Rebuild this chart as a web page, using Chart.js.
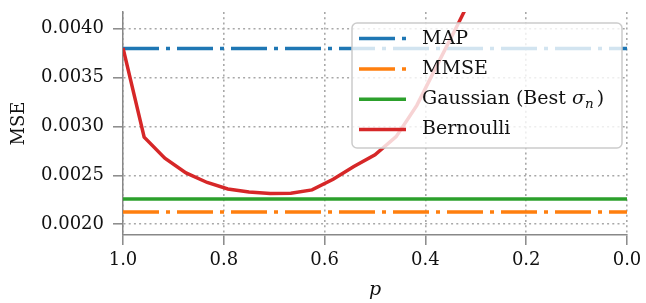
<!DOCTYPE html>
<html>
<head>
<meta charset="utf-8">
<script src="https://cdn.jsdelivr.net/npm/chart.js@4"></script>
<style>
  html, body { margin: 0; padding: 0; background: #fff; }
</style>
</head>
<body>
<canvas id="mseChart" width="646" height="303"></canvas>
<script>
// ----------- data ---------- //
const pValues = [1.0, 0.958, 0.917, 0.875, 0.833, 0.792, 0.75, 0.708, 0.667, 0.625, 0.583, 0.542, 0.5, 0.458, 0.417, 0.375, 0.333, 0.292];
const bernoulliMse = [0.003803, 0.00289, 0.002675, 0.002525, 0.002427, 0.002361, 0.00233, 0.002315, 0.002317, 0.002351, 0.00246, 0.00259, 0.00271, 0.002895, 0.003215, 0.003645, 0.00407, 0.0045];
const mapMse = 0.003796;
const mmseMse = 0.002126;
const gaussianMse = 0.002259;
const pRange = [1.0, 0.0];
const xTicks = [1.0, 0.8, 0.6, 0.4, 0.2, 0.0];
const yTicks = [0.002, 0.0025, 0.003, 0.0035, 0.004];

const serif = "DejaVu Serif";
const textColor = "#111";
const dashDot = [36, 7, 4, 7];
const gridDots = [2, 3.2];

// flat line across the whole p range
const flat = (val) => pRange.map((p) => ({ x: p, y: val }));

// ----------- legend drawn inside the plot ---------- //
const drawLabel = (ctx, text, x, y) => {
  ctx.textBaseline = "middle";
  ctx.textAlign = "left";
  const normal = `19px '${serif}'`;
  const italic = `italic 19px '${serif}'`;
  const small = `italic 13.5px '${serif}'`;
  if (text.indexOf("σ_n") < 0) {
    ctx.font = normal;
    ctx.fillText(text, x, y);
    return;
  }
  const [before, after] = text.split("σ_n");
  ctx.font = normal;
  ctx.fillText(before, x, y);
  x += ctx.measureText(before).width;
  ctx.font = italic;
  ctx.fillText("σ", x, y);
  x += ctx.measureText("σ").width;
  ctx.font = small;
  ctx.fillText("n", x, y + 5);
  x += ctx.measureText("n").width + 3;
  ctx.font = normal;
  ctx.fillText(after, x, y);
};

const legendInside = {
  id: "legendInside",
  afterDatasetsDraw(chart) {
    const ctx = chart.ctx;
    const area = chart.chartArea;
    const boxW = 270;
    const boxH = 125;
    const x0 = area.right - 5 - boxW;
    const y0 = area.top + 11;
    ctx.save();
    ctx.beginPath();
    ctx.roundRect(x0, y0, boxW, boxH, 5);
    ctx.fillStyle = "rgba(255,255,255,0.8)";
    ctx.fill();
    ctx.strokeStyle = "#cccccc";
    ctx.lineWidth = 1.5;
    ctx.stroke();
    chart.data.datasets.forEach((ds, i) => {
      const y = y0 + 15.6 + i * 30.3;
      ctx.beginPath();
      ctx.setLineDash(ds.borderDash || []);
      ctx.strokeStyle = ds.borderColor;
      ctx.lineWidth = ds.borderWidth;
      ctx.moveTo(x0 + 7, y);
      ctx.lineTo(x0 + 54, y);
      ctx.stroke();
      ctx.setLineDash([]);
      ctx.fillStyle = textColor;
      drawLabel(ctx, ds.label, x0 + 70, y);
    });
    ctx.restore();
  },
};

// ----------- chart ---------- //
Chart.defaults.font.family = serif;
Chart.defaults.color = textColor;

new Chart(document.getElementById("mseChart"), {
  type: "line",
  data: {
    datasets: [
      {
        label: "MAP",
        data: flat(mapMse),
        borderColor: "#1f77b4",
        borderWidth: 3.5,
        borderDash: dashDot,
        order: 4,
      },
      {
        label: "MMSE",
        data: flat(mmseMse),
        borderColor: "#ff7f0e",
        borderWidth: 3.5,
        borderDash: dashDot,
        order: 3,
      },
      {
        label: "Gaussian (Best σ_n)",
        data: flat(gaussianMse),
        borderColor: "#2ca02c",
        borderWidth: 3.5,
        order: 2,
      },
      {
        label: "Bernoulli",
        data: pValues.map((p, i) => ({ x: p, y: bernoulliMse[i] })),
        borderColor: "#d62728",
        borderWidth: 3.5,
        order: 1,
      },
    ],
  },
  options: {
    responsive: false,
    animation: false,
    elements: {
      point: { radius: 0 },
      line: { tension: 0, fill: false, borderCapStyle: "butt" },
    },
    layout: { padding: { top: 12, right: 19, left: 0, bottom: 0 } },
    plugins: {
      legend: { display: false },
      tooltip: { enabled: false },
    },
    scales: {
      x: {
        type: "linear",
        min: 0,
        max: 1,
        reverse: true,
        afterBuildTicks: (s) => {
          s.ticks = xTicks.map((v) => ({ value: v }));
        },
        afterFit: (s) => {
          s.height = 68;
          s.paddingLeft = 0;
          s.paddingRight = 0;
        },
        grid: {
          color: "#a8a8a8",
          lineWidth: 1.6,
          borderDash: gridDots,
          tickLength: 10,
          tickColor: "#888",
          tickWidth: 1.5,
          tickBorderDash: [],
        },
        border: { display: true, color: "#888", width: 1.5, dash: gridDots },
        ticks: {
          padding: 5,
          maxRotation: 0,
          autoSkip: false,
          font: { size: 18 },
          callback: (v) => Number(v).toFixed(1),
        },
        title: {
          display: true,
          text: "p",
          font: { size: 19, style: "italic" },
          padding: { top: 0, bottom: 2 },
        },
      },
      y: {
        type: "linear",
        min: 0.00189,
        max: 0.00417,
        afterBuildTicks: (s) => {
          s.ticks = yTicks.map((v) => ({ value: v }));
        },
        afterFit: (s) => {
          s.width = 123;
          s.paddingTop = 0;
          s.paddingBottom = 0;
        },
        grid: {
          color: "#a8a8a8",
          lineWidth: 1.6,
          borderDash: gridDots,
          tickLength: 10,
          tickColor: "#888",
          tickWidth: 1.5,
          tickBorderDash: [],
        },
        border: { display: true, color: "#888", width: 1.5, dash: gridDots },
        ticks: {
          padding: 9,
          font: { size: 18 },
          callback: (v) => Number(v).toFixed(4),
        },
        title: {
          display: true,
          text: "MSE",
          font: { size: 18 },
          padding: { top: 9, bottom: 0 },
        },
      },
    },
  },
  plugins: [legendInside],
});
</script>
</body>
</html>
